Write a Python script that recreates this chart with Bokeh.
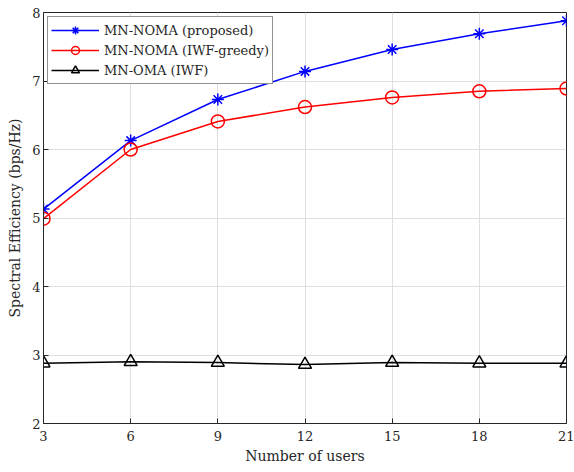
from bokeh.plotting import figure
from bokeh.models import FixedTicker, Range1d
from bokeh.embed import file_html
from bokeh.resources import INLINE

users = [3, 6, 9, 12, 15, 18, 21]
se_proposed = [5.13, 6.13, 6.73, 7.14, 7.46, 7.69, 7.88]
se_iwf_greedy = [4.99, 6.00, 6.41, 6.62, 6.76, 6.85, 6.89]
se_oma = [2.88, 2.90, 2.89, 2.86, 2.89, 2.88, 2.88]
x_ticks = [3, 6, 9, 12, 15, 18, 21]
y_ticks = [2, 3, 4, 5, 6, 7, 8]

FONT = "DejaVu Serif"
AX = "#262626"

p = figure(width=574, height=472, output_backend="svg", toolbar_location=None,
           x_range=Range1d(3, 21), y_range=Range1d(2, 8),
           min_border_left=43, min_border_right=8, min_border_top=12, min_border_bottom=49)
p.background_fill_color = "white"
p.border_fill_color = "white"
p.outline_line_color = AX
p.outline_line_width = 1

for ax in (p.xaxis[0], p.yaxis[0]):
    ax.major_tick_in = 5
    ax.major_tick_out = 0
    ax.minor_tick_line_color = None
    ax.axis_line_color = AX
    ax.major_tick_line_color = AX
    ax.major_label_text_font = FONT
    ax.major_label_text_font_size = "13px"
    ax.major_label_text_color = AX
    ax.axis_label_text_font = FONT
    ax.axis_label_text_font_size = "14px"
    ax.axis_label_text_font_style = "normal"
    ax.axis_label_text_color = AX
p.xaxis.ticker = FixedTicker(ticks=x_ticks)
p.yaxis.ticker = FixedTicker(ticks=y_ticks)
p.xaxis.axis_label = "Number of users"
p.yaxis.axis_label = "Spectral Efficiency (bps/Hz)"
p.xaxis.major_label_standoff = 7
p.xaxis.axis_label_standoff = 4
p.yaxis.major_label_standoff = 3
p.yaxis.axis_label_standoff = 6

p.xgrid.ticker = FixedTicker(ticks=x_ticks)
p.ygrid.ticker = FixedTicker(ticks=y_ticks)
p.grid.grid_line_color = "#dfdfdf"
p.grid.grid_line_width = 1

lw = 1.5
p.line(users, se_proposed, color="#0000ff", line_width=lw, legend_label="MN-NOMA (proposed)")
p.scatter(users, se_proposed, marker="asterisk", size=12, line_color="#0000ff", line_width=1.5,
          legend_label="MN-NOMA (proposed)")
p.line(users, se_iwf_greedy, color="#ff0000", line_width=lw, legend_label="MN-NOMA (IWF-greedy)")
p.scatter(users, se_iwf_greedy, marker="circle", size=13, line_color="#ff0000", fill_color=None,
          line_width=1.5, legend_label="MN-NOMA (IWF-greedy)")
p.line(users, se_oma, color="black", line_width=lw, legend_label="MN-OMA (IWF)")
p.scatter(users, se_oma, marker="triangle", size=13, line_color="black", fill_color=None,
          line_width=1.5, legend_label="MN-OMA (IWF)")

lg = p.legend[0]
lg.location = "top_left"
lg.margin = 4
lg.padding = 3
lg.spacing = 0
lg.label_text_font = FONT
lg.label_text_font_size = "13px"
lg.label_text_color = AX
lg.label_height = 20
lg.glyph_height = 20
lg.glyph_width = 48
lg.label_standoff = 5
lg.border_line_color = AX
lg.border_line_width = 1
lg.background_fill_alpha = 1

open("out.html", "w").write(file_html(p, INLINE))
